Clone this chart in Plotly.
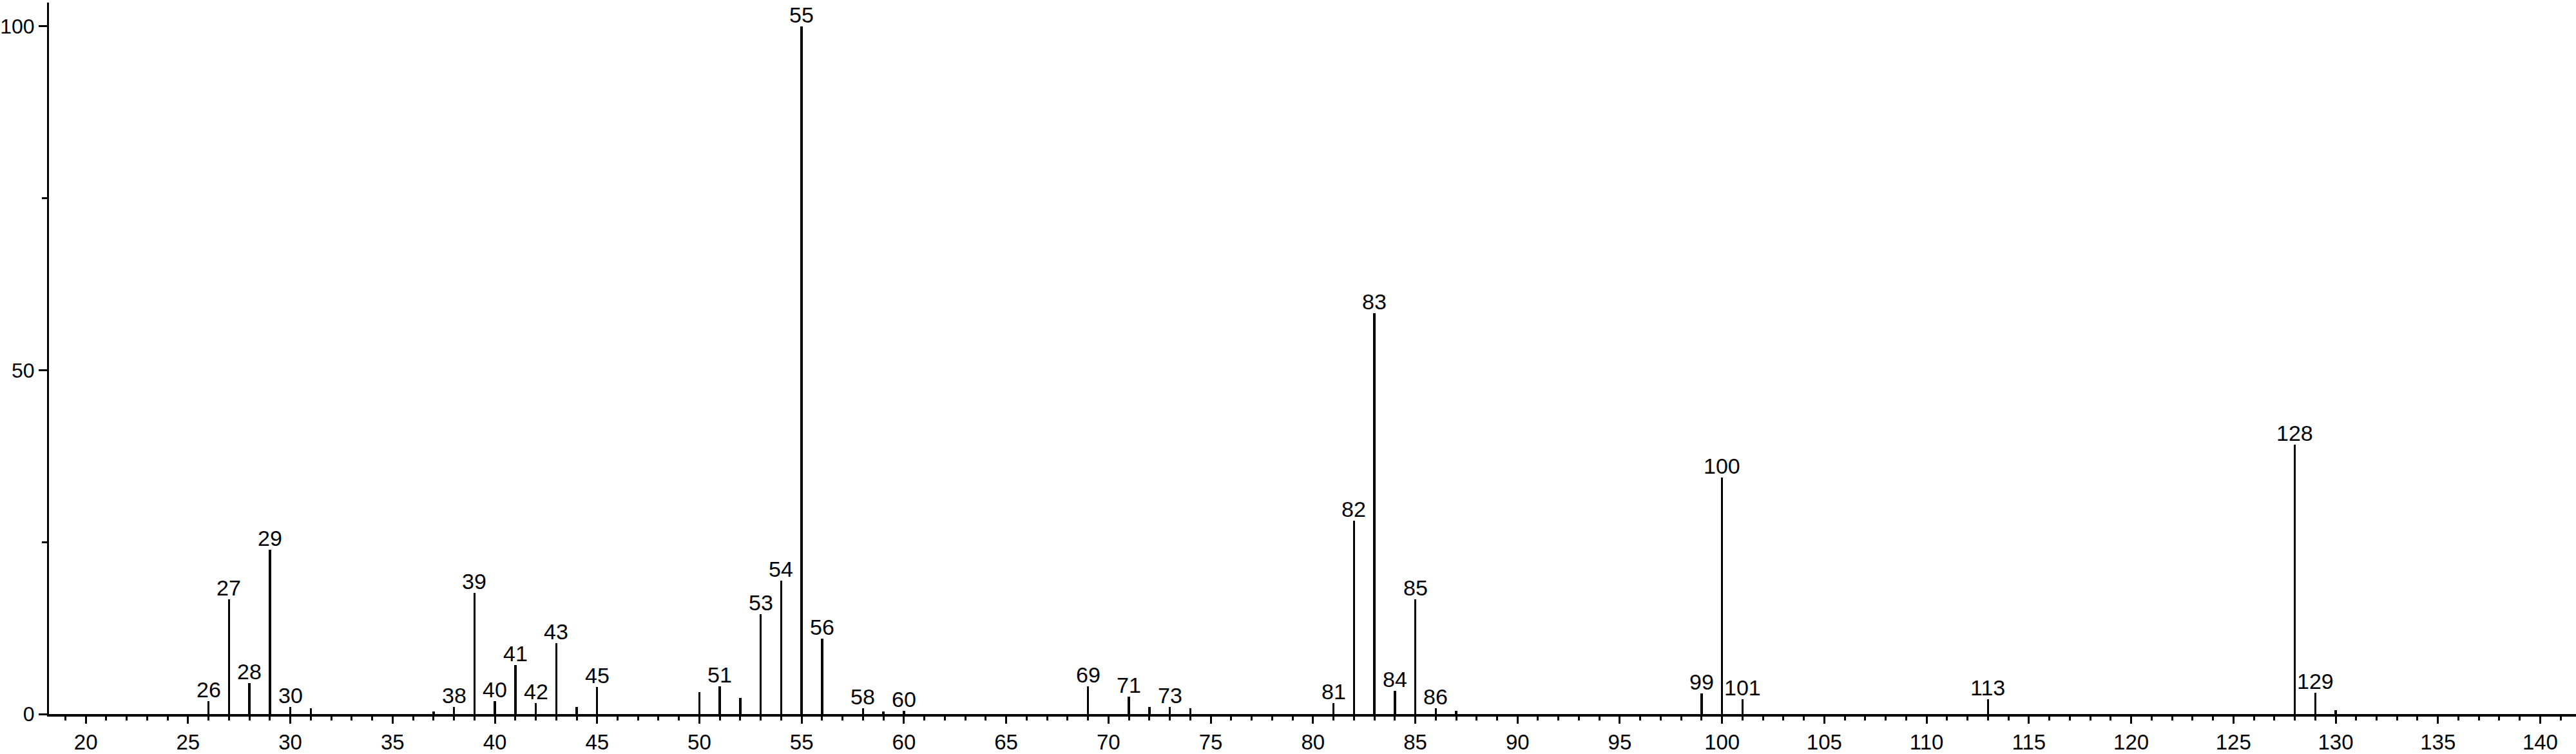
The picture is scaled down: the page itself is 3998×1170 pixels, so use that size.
import plotly.graph_objects as go

# m/z values and relative intensities (%)
mz = [26, 27, 28, 29, 30, 31, 37, 38, 39, 40, 41, 42, 43, 44, 45,
      50, 51, 52, 53, 54, 55, 56, 58, 59, 60,
      69, 71, 72, 73, 74, 81, 82, 83, 84, 85, 86, 87,
      99, 100, 101, 113, 128, 129, 130]
intensity = [1.9, 16.7, 4.5, 23.9, 1.0, 0.8, 0.4, 1.0, 17.6, 1.9, 7.1, 1.6, 10.3, 1.0, 3.9,
             3.2, 4.0, 2.3, 14.5, 19.4, 100.0, 11.0, 0.8, 0.4, 0.5,
             4.0, 2.5, 1.0, 1.0, 0.8, 1.6, 28.1, 58.3, 3.4, 16.7, 0.8, 0.5,
             3.0, 34.4, 2.2, 2.2, 39.2, 3.1, 0.6]
# peaks that carry an m/z label
labeled_mz = [26, 27, 28, 29, 30, 38, 39, 40, 41, 42, 43, 45, 51, 53, 54, 55, 56, 58, 60,
              69, 71, 73, 81, 82, 83, 84, 85, 86, 99, 100, 101, 113, 128, 129]

x_tick_vals = list(range(20, 141, 5))
y_tick_vals = [0, 50, 100]

FONT = "Arial, Liberation Sans, sans-serif"

fig = go.Figure()
fig.add_trace(go.Bar(
    x=mz, y=intensity, width=0.11,
    marker=dict(color="black", line=dict(width=0)),
    hoverinfo="x+y", showlegend=False,
))

lookup = dict(zip(mz, intensity))
annotations = []
for m in labeled_mz:
    annotations.append(dict(
        x=m, y=lookup[m], xref="x", yref="y",
        text=str(m), showarrow=False,
        xanchor="center", yanchor="bottom", yshift=-3,
        font=dict(family=FONT, size=34, color="black"),
    ))

fig.update_layout(
    width=3998, height=1170,
    margin=dict(l=68, r=0, t=4, b=53),
    paper_bgcolor="white", plot_bgcolor="white",
    annotations=annotations,
    font=dict(family=FONT, size=32, color="black"),
    bargap=0,
)
fig.update_xaxes(
    range=[18.2, 141.75],
    tickmode="array", tickvals=x_tick_vals,
    ticks="outside", ticklen=11, tickwidth=3, tickcolor="black",
    minor=dict(dtick=1, tick0=0, ticks="outside", ticklen=6, tickwidth=3, tickcolor="black"),
    showline=True, linecolor="black", linewidth=4,
    showgrid=False, zeroline=False,
    tickfont=dict(family=FONT, size=33, color="black"),
)
fig.update_yaxes(
    range=[0, 103.44],
    tickmode="array", tickvals=y_tick_vals,
    ticks="outside", ticklen=13, tickwidth=3, tickcolor="black",
    minor=dict(tickvals=[25, 75], ticks="outside", ticklen=8, tickwidth=3, tickcolor="black"),
    showline=True, linecolor="black", linewidth=3,
    showgrid=False, zeroline=False,
    tickfont=dict(family=FONT, size=32, color="black"),
)

fig.write_html("out.html", config={"displayModeBar": False},
               post_script="document.body.style.margin='0';document.body.style.overflow='hidden';")
